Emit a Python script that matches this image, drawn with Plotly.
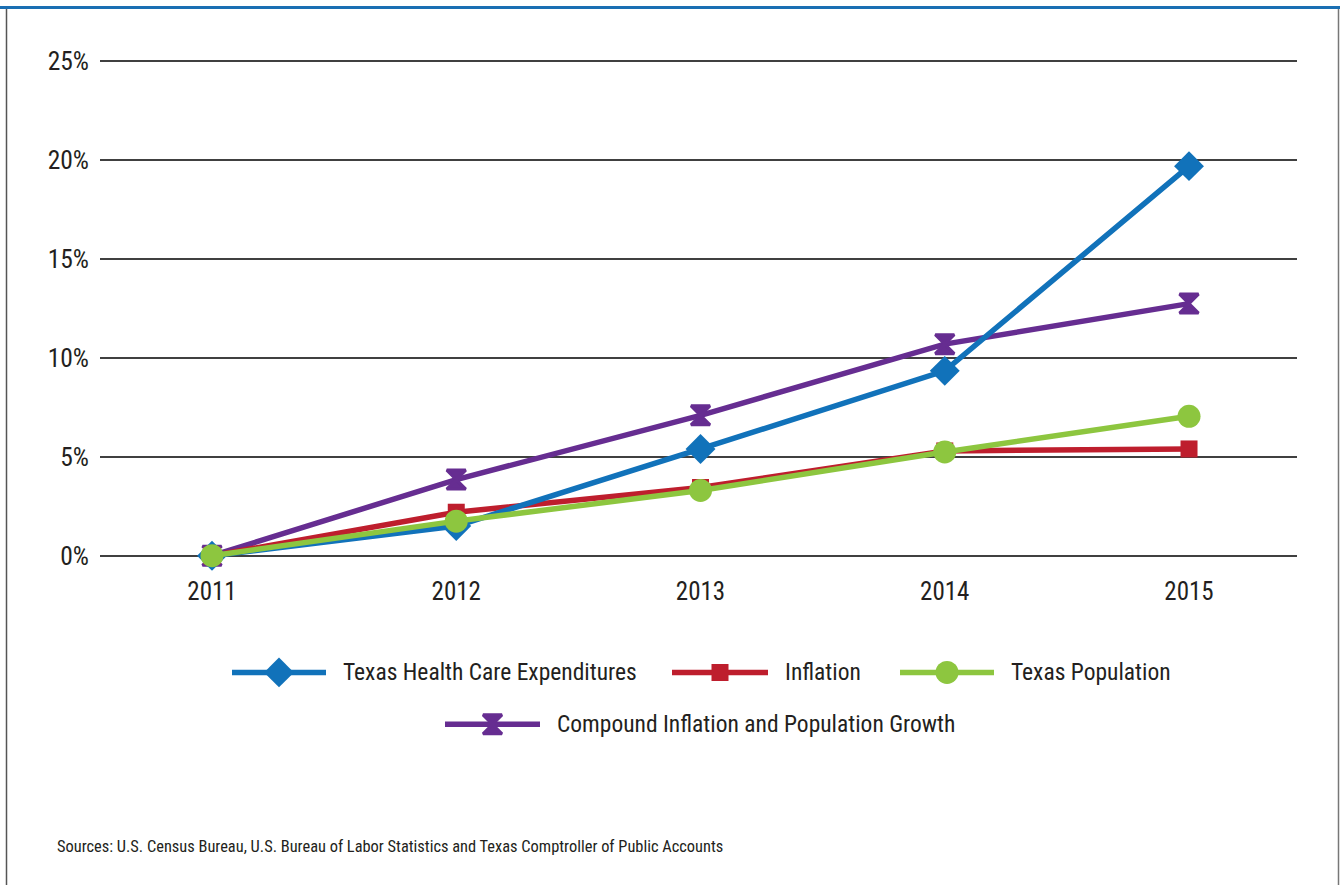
import plotly.graph_objects as go

years = ["2011", "2012", "2013", "2014", "2015"]
health = [0.0, 1.5, 5.4, 9.35, 19.7]
inflation = [0.0, 2.2, 3.45, 5.3, 5.4]
population = [0.0, 1.75, 3.3, 5.25, 7.05]
compound = [0.0, 3.85, 7.1, 10.7, 12.75]

names = ["Texas Health Care Expenditures", "Inflation", "Texas Population",
         "Compound Inflation and Population Growth"]
y_ticks = [0, 5, 10, 15, 20, 25]
source = "Sources: U.S. Census Bureau, U.S. Bureau of Labor Statistics and Texas Comptroller of Public Accounts"

BLUE = "#1172ba"
RED = "#be1e2d"
GREEN = "#8dc63f"
PURPLE = "#662d91"
FONT = "Roboto Condensed, DejaVu Sans Condensed, sans-serif"
TXT = "#231f20"
LW = 5.5

W, H = 1340, 890
def px(x):
    return x / W
def py(y):
    return 1 - y / H

hg = dict(symbol="hourglass", size=19, line=dict(width=3, color=PURPLE))
series = [
    (compound, PURPLE, hg, names[3]),
    (inflation, RED, dict(symbol="square", size=17), names[1]),
    (health, BLUE, dict(symbol="diamond", size=23), names[0]),
    (population, GREEN, dict(symbol="circle", size=23), names[2]),
]

fig = go.Figure()
for vals, col, mk, nm in series:
    fig.add_trace(go.Scatter(
        x=years, y=vals, mode="lines+markers", name=nm,
        line=dict(color=col, width=LW), marker=dict(color=col, **mk),
        cliponaxis=False, showlegend=False, xaxis="x", yaxis="y"))

# custom legend drawn in a second, hidden subplot (pixel-like coordinates)
legend_items = [
    (BLUE, dict(symbol="diamond", size=23), names[0], 232, 326, 675),
    (RED, dict(symbol="square", size=17), names[1], 672, 768, 675),
    (GREEN, dict(symbol="circle", size=23), names[2], 900, 994, 675),
    (PURPLE, hg, names[3], 445, 540, 727.5),
]
for col, mk, nm, x0, x1, yy in legend_items:
    fig.add_trace(go.Scatter(x=[x0, x1], y=[yy, yy], mode="lines",
                             line=dict(color=col, width=LW), showlegend=False,
                             hoverinfo="skip", xaxis="x2", yaxis="y2"))
    fig.add_trace(go.Scatter(x=[(x0 + x1) / 2], y=[yy], mode="markers",
                             marker=dict(color=col, **mk), showlegend=False,
                             hoverinfo="skip", xaxis="x2", yaxis="y2"))
    fig.add_annotation(x=x1 + 15, y=yy, xref="x2", yref="y2", text=nm,
                       showarrow=False, xanchor="left", yanchor="middle",
                       font=dict(family=FONT, size=23.5, color=TXT))

fig.add_annotation(x=px(55), y=py(851), xref="paper", yref="paper", text=source,
                   showarrow=False, xanchor="left", yanchor="middle",
                   font=dict(family=FONT, size=16.4, color=TXT))

shapes = [
    dict(type="line", xref="paper", yref="paper", x0=0, x1=1, y0=py(2.5), y1=py(2.5),
         line=dict(color="#1a6fb3", width=3)),
    dict(type="line", xref="paper", yref="paper", x0=px(6.5), x1=px(6.5), y0=0, y1=py(4),
         line=dict(color="#555555", width=1.5)),
    dict(type="line", xref="paper", yref="paper", x0=px(1338.5), x1=px(1338.5), y0=0, y1=py(4),
         line=dict(color="#777777", width=1.5)),
]

fig.update_layout(
    width=W, height=H, margin=dict(l=0, r=0, t=0, b=0),
    paper_bgcolor="white", plot_bgcolor="white",
    font=dict(family=FONT, color=TXT),
    shapes=shapes,
    xaxis=dict(domain=[px(100), px(1297)], type="category",
               range=[-0.4586, 4.4421], showgrid=False, zeroline=False,
               showline=False, ticks="", ticklabelstandoff=8,
               tickfont=dict(family=FONT, size=25, color=TXT)),
    yaxis=dict(domain=[py(567), py(47)], range=[-0.5, 25.5],
               tickvals=y_ticks, ticktext=[f"{v}%" for v in y_ticks],
               showgrid=True, gridcolor="#404040", gridwidth=1.5,
               zeroline=False, showline=False, ticks="", ticklabelstandoff=10,
               tickfont=dict(family=FONT, size=25.5, color=TXT)),
    xaxis2=dict(domain=[0, 1], range=[0, W], visible=False, anchor="y2"),
    yaxis2=dict(domain=[py(780), py(620)], range=[780, 620], visible=False, anchor="x2"),
)

post = (
    "var d=document.documentElement, b=document.body;"
    "d.style.margin='0';d.style.padding='0';d.style.overflow='hidden';d.style.height='890px';"
    "b.style.margin='0';b.style.padding='0';b.style.overflow='hidden';b.style.height='890px';"
    "var gd=document.getElementById('{plot_id}');"
    "gd.style.position='absolute';gd.style.left='0px';gd.style.top='0px';"
)
fig.write_html("out.html", config={"displayModeBar": False}, post_script=post)
